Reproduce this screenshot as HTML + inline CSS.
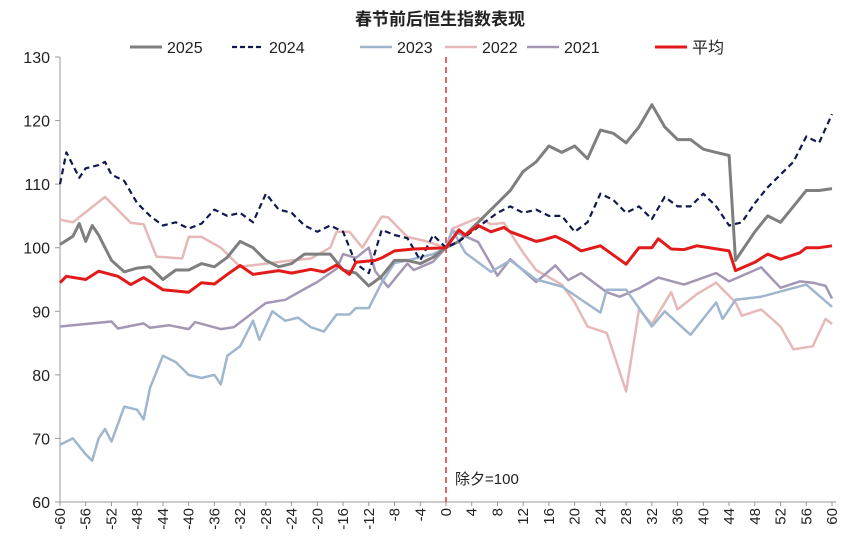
<!DOCTYPE html>
<html><head><meta charset="utf-8"><style>
body{margin:0;background:#fff;}
svg text{font-family:"Liberation Sans","Noto Sans CJK SC",sans-serif;}
</style></head><body>
<svg id="chart" width="860" height="550" viewBox="0 0 860 550" xmlns="http://www.w3.org/2000/svg">
<text x="440" y="25" text-anchor="middle" font-size="17" font-weight="bold" fill="#222">春节前后恒生指数表现</text>
<g id="legend"></g>
<g id="axes"></g>
<g id="series"></g>
<text x="455" y="484" font-size="15" fill="#222">除夕=100</text>
</svg>
<script>
const yTicks=[60,70,80,90,100,110,120,130];
const xTicks=[-60,-56,-52,-48,-44,-40,-36,-32,-28,-24,-20,-16,-12,-8,-4,0,4,8,12,16,20,24,28,32,36,40,44,48,52,56,60];
const seriesNames=["2025","2024","2023","2022","2021","平均"];
const days2025=[-60,-58,-57,-56,-55,-54,-52,-50,-48,-46,-44,-42,-40,-38,-36,-34,-32,-30,-28,-26,-24,-22,-20,-18,-16,-14,-12,-10,-8,-6,-4,-2,0,2,4,6,8,10,12,14,16,18,20,22,24,26,28,30,32,34,36,38,40,42,44,45,46,48,50,52,54,56,58,60];
const vals2025=[100.5,101.8,103.8,101,103.5,102,98,96.2,96.8,97,95,96.5,96.5,97.5,97,98.5,101,100,98,97,97.5,99,99,99,96.5,96,94,95.5,98,98,97.5,98.5,100,101,103,105,107,109,112,113.5,116,115,116,114,118.5,118,116.5,119,122.5,119,117,117,115.5,115,114.5,98,99.5,102.5,105,104,106.5,109,109,109.3];
const days2024=[-60,-59,-57,-56,-54,-53,-52,-50,-48,-46,-44,-42,-40,-38,-36,-34,-32,-30,-28,-26,-24,-22,-20,-18,-16,-14,-12,-10,-8,-6,-4,-2,0,2,4,6,8,10,12,14,16,18,20,22,24,26,28,30,32,34,36,38,40,42,44,46,48,50,52,54,56,58,60];
const vals2024=[110,115,111,112.5,113,113.5,111.5,110.5,107,105,103.5,104,103,103.8,106,105,105.5,104,108.5,106,105.5,103.5,102.5,103.5,102.5,97.5,96,102.8,102,101.5,98,102,100,101,102.5,104,105.5,106.5,105.5,106,105,105,102.5,104,108.5,107.5,105.5,106.5,104.5,108,106.5,106.5,108.5,106.5,103.5,104,107,109.5,111.5,113.5,117.5,116.5,121];
const days2023=[-60,-58,-56,-55,-54,-53,-52,-50,-48,-47,-46,-44,-42,-40,-38,-36,-35,-34,-32,-30,-29,-27,-25,-23,-21,-19,-17,-15,-14,-12,-10,-8,-6,-4,-2,0,1,3,7,10,14,18,24,25,28,32,34,38,42,43,45,49,56,60];
const vals2023=[69,70,67.5,66.5,70,71.5,69.5,75,74.5,73,78,83,82,80,79.5,80,78.5,83,84.5,88.5,85.5,90,88.5,89,87.5,86.8,89.5,89.5,90.5,90.5,94.5,97.6,98,98.5,99,100,102.8,99.2,96.2,98,95,93.9,89.8,93.4,93.4,87.6,90,86.3,91.4,88.8,91.8,92.3,94.2,90.7];
const days2022=[-60,-58,-53,-49,-47,-45,-41,-40,-38,-35,-32,-28,-24,-21,-18,-17,-15,-13,-10,-9,-6,-3,0,1,5,7,9,12,14,18,20,22,25,28,30,32,35,36,39,42,45,46,49,52,54,57,59,60];
const vals2022=[104.4,104,108,103.9,103.7,98.6,98.3,101.7,101.7,100,97,97.5,98,98.3,100,102.5,102.5,100,104.9,104.8,101.7,101,100,103,104.7,103.7,103.9,99.2,96.5,94.2,91.4,87.6,86.6,77.4,90.3,88,93,90.3,92.7,94.5,91.4,89.3,90.3,87.6,84,84.5,88.8,88];
const days2021=[-60,-56,-52,-51,-47,-46,-43,-40,-39,-35,-33,-30,-28,-25,-22,-20,-17,-16,-14,-12,-11,-9,-6,-5,-2,0,1,5,7,8,10,14,17,19,21,25,27,30,33,37,42,44,49,52,55,57,59,60];
const vals2021=[87.6,88,88.4,87.3,88.1,87.4,87.8,87.2,88.3,87.2,87.5,89.8,91.3,91.8,93.5,94.6,96.7,99,98.4,100,96.3,93.8,97.5,96.5,97.8,100,102.7,100.9,97.4,95.6,98.2,94.6,97.2,94.9,96,93,92.3,93.6,95.3,94.2,96,94.7,96.9,93.7,94.7,94.5,94,92];
const daysAvg=[-60,-59,-56,-54,-51,-49,-47,-44,-40,-38,-36,-34,-32,-30,-26,-24,-21,-19,-17,-15,-14,-11,-10,-8,-5,0,2,3,5,7,9,10,14,15,17,19,21,24,28,30,32,33,35,37,39,44,45,48,50,52,55,56,58,60];
const valsAvg=[94.5,95.5,95,96.3,95.5,94.2,95.3,93.4,93,94.5,94.3,95.8,97.2,95.8,96.4,96,96.6,96.2,97.3,95.8,97.7,98,98.4,99.5,99.8,100,102.8,102,103.5,102.5,103.2,102.5,101,101.2,101.8,100.8,99.5,100.3,97.4,100,100,101.4,99.8,99.7,100.3,99.5,96.4,97.7,99,98.2,99.2,100,100,100.3];

const NS="http://www.w3.org/2000/svg";
const X0=60,X1=832,Y0=502,Y1=57;
const xs=d=>X0+(d+60)/120*(X1-X0);
const ys=v=>Y0-(v-60)/70*(Y0-Y1);
function mk(tag,attrs,parent){const e=document.createElementNS(NS,tag);for(const k in attrs)e.setAttribute(k,attrs[k]);parent.appendChild(e);return e;}
const axes=document.getElementById('axes'),ser=document.getElementById('series'),leg=document.getElementById('legend');
let l=mk('line',{x1:X0,y1:Y1,x2:X0,y2:Y0,stroke:'#999','stroke-width':1},axes);


l=mk('line',{x1:X0,y1:Y0,x2:X1+4,y2:Y0,stroke:'#999','stroke-width':1},axes);


yTicks.forEach(v=>{
  const t=mk('line',{x1:X0-5,y1:ys(v),x2:X0,y2:ys(v),stroke:'#999'},axes);
  
  
  const tx=mk('text',{x:X0-10,y:ys(v)+6,'text-anchor':'end','font-size':16,fill:'#222'},axes);
  tx.textContent=v;
  
  
});
xTicks.forEach(d=>{
  const x=xs(d);
  const t=mk('line',{x1:x,y1:Y0,x2:x,y2:Y0+4,stroke:'#999'},axes);
  
  
  const tx=mk('text',{x:0,y:0,'text-anchor':'end','font-size':15,fill:'#222',transform:`translate(${x+5},${Y0+6}) rotate(-90)`},axes);
  tx.textContent=d;
  
  
});
const ref=mk('line',{x1:xs(0),y1:Y1,x2:xs(0),y2:Y0,stroke:'#d33','stroke-width':1.5,'stroke-dasharray':'6,4'},axes);


const styles=[
 {c:'#7f7f7f',w:3,dash:null},
 {c:'#12194f',w:2.2,dash:'6,4'},
 {c:'#9fb6cf',w:2.5,dash:null},
 {c:'#e6b9b8',w:2.5,dash:null},
 {c:'#a497b5',w:2.5,dash:null},
 {c:'#e31a1a',w:3,dash:null}];
const data=[[days2025,vals2025],[days2024,vals2024],[days2023,vals2023],[days2022,vals2022],[days2021,vals2021],[daysAvg,valsAvg]];
const order=[3,4,2,0,1,5];
order.forEach(i=>{
  const [ds,vs]=data[i],s=styles[i];
  const p=mk('polyline',{points:ds.map((d,j)=>xs(d).toFixed(1)+','+ys(vs[j]).toFixed(1)).join(' '),fill:'none',stroke:s.c,'stroke-width':s.w,'stroke-linejoin':'round'},ser);
  if(s.dash)p.setAttribute('stroke-dasharray',s.dash);
  
  
});
const legX=[130,232,360,445,527,655];
seriesNames.forEach((n,i)=>{
  const s=styles[i],x=legX[i];
  const g=mk('g',{},leg);
  
  
  const ln=mk('line',{x1:x,y1:47,x2:x+32,y2:47,stroke:s.c,'stroke-width':s.w},g);
  if(s.dash)ln.setAttribute('stroke-dasharray','5,3');
  const t=mk('text',{x:x+37,y:53,'font-size':16,fill:'#222'},g);
  t.textContent=n;
});
</script>
</body></html>
